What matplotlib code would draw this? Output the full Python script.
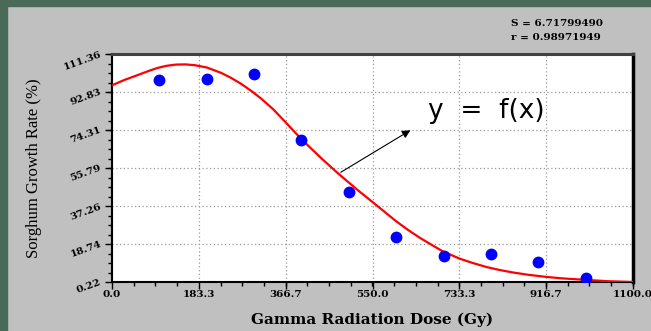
import numpy as np
import matplotlib
matplotlib.use('Agg')
import matplotlib.pyplot as plt
from matplotlib.patches import Rectangle
from matplotlib.ticker import AutoMinorLocator

# Measured points (dose in Gy, growth rate in %)
dose = [100, 200, 300, 400, 500, 600, 700, 800, 900, 1000]
growth = [98.7, 99.0, 101.4, 69.3, 43.9, 22.0, 13.1, 13.7, 10.1, 2.3]

# Fitted curve
fit_x = [0, 25, 52, 75, 95, 115, 135, 155, 175, 200, 230, 250, 272, 295,
         315, 340, 366, 400, 443, 478, 521, 549, 575, 599, 625, 649, 670,
         698, 734, 760, 791, 820, 848, 880, 917, 950, 990, 1047, 1100]
fit_y = [96.1, 98.6, 100.9, 102.9, 104.5, 105.6, 106.2, 106.3, 105.9,
         104.8, 102.2, 99.9, 96.9, 93.2, 89.6, 84.5, 78.2, 69.8, 60.3,
         53.0, 44.6, 39.4, 34.5, 30.0, 25.6, 21.9, 19.0, 15.2, 11.6, 9.6,
         7.5, 6.0, 4.8, 3.7, 2.7, 2.0, 1.4, 0.6, 0.22]

xticks = [0.0, 183.3, 366.7, 550.0, 733.3, 916.7, 1100.0]
yticks = [0.22, 18.74, 37.26, 55.79, 74.31, 92.83, 111.36]

fig = plt.figure(figsize=(6.51, 3.31), dpi=100)
fig.patch.set_facecolor('#c0c0c0')

# dark green border on the left and top
fig.patches.append(Rectangle((0, 0), 7 / 651, 1, transform=fig.transFigure,
                             color='#4a6a58', zorder=0))
fig.patches.append(Rectangle((0, 1 - 6 / 331), 1, 6 / 331, transform=fig.transFigure,
                             color='#4a6a58', zorder=0))

ax = fig.add_axes([112 / 651, 1 - 282 / 331, 521 / 651, 228 / 331])
ax.set_facecolor('white')

ax.plot(fit_x, fit_y, color='#ff0000', lw=1.6, zorder=3)
ax.plot(dose, growth, 'o', color='#0000ff', markersize=7.5, zorder=4)

ax.set_xlim(0, 1100)
ax.set_ylim(0.22, 111.36)
ax.set_xticks(xticks)
ax.set_yticks(yticks)
ax.set_xticklabels(['%.1f' % t for t in xticks], fontsize=7.5,
                   family='DejaVu Serif', fontweight='bold')
ax.set_yticklabels(['%.2f' % t for t in yticks], fontsize=7.5,
                   family='DejaVu Serif', fontweight='bold', rotation=20,
                   rotation_mode='anchor', ha='right', va='center')
ax.xaxis.set_minor_locator(AutoMinorLocator(4))
ax.yaxis.set_minor_locator(AutoMinorLocator(4))
ax.tick_params(axis='both', which='major', direction='out', length=5, width=1, color='black')
ax.tick_params(axis='both', which='minor', direction='out', length=3, width=1, color='black')
ax.tick_params(axis='x', which='major', pad=1)
ax.tick_params(axis='y', which='major', pad=3)

ax.grid(True, which='major', color='#999999', linestyle=(0, (1, 2)), lw=0.9)
ax.set_axisbelow(True)

ax.spines['left'].set_linewidth(1.5)
ax.spines['bottom'].set_linewidth(1.5)
ax.spines['top'].set_linewidth(2.2)
ax.spines['top'].set_color('#404040')
ax.spines['right'].set_linewidth(2.5)

ax.set_xlabel('Gamma Radiation Dose (Gy)', family='DejaVu Serif',
              fontweight='bold', fontsize=11, va='center')
ax.xaxis.set_label_coords(0.5, -0.167)
ax.set_ylabel('Sorghum Growth Rate (%)', family='Liberation Serif',
              fontsize=12, va='center')
ax.yaxis.set_label_coords(-0.15, 0.5)

ax.annotate('', xy=(635, 74.9), xytext=(478, 53.0),
            arrowprops=dict(arrowstyle='-|>', color='black', lw=0.8,
                            mutation_scale=12))
ax.text(790, 83.4, 'y  =  f(x)', fontsize=19, family='DejaVu Sans',
        ha='center', va='center')

fig.text(511 / 651, 1 - 24 / 331, 'S = 6.71799490', family='DejaVu Serif',
         fontweight='bold', fontsize=7.5, va='center', ha='left')
fig.text(511 / 651, 1 - 37 / 331, 'r = 0.98971949', family='DejaVu Serif',
         fontweight='bold', fontsize=7.5, va='center', ha='left')

fig.savefig('out.png', dpi=100, facecolor=fig.get_facecolor())
